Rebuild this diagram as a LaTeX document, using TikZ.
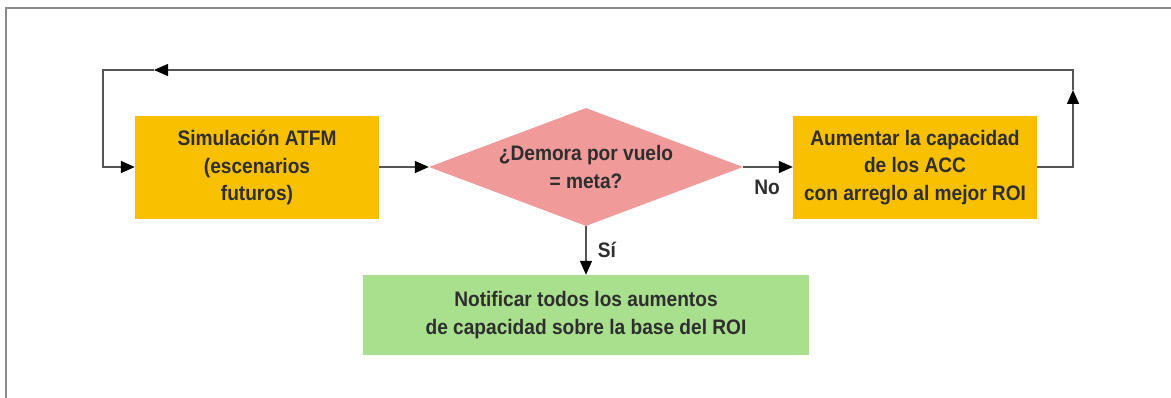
\documentclass[tikz,border=0pt]{standalone}
\usepackage{fontspec}
\setmainfont{Liberation Sans}[FakeStretch=0.91]
\usetikzlibrary{shapes.geometric,arrows.meta}
\definecolor{boxyellow}{HTML}{F9C000}
\definecolor{diapink}{HTML}{F09A9A}
\definecolor{boxgreen}{HTML}{A9E08E}
\definecolor{txtgray}{HTML}{2E2E2E}
\definecolor{linegray}{HTML}{555555}
\definecolor{framegray}{HTML}{8A8A8A}
\begin{document}
\begin{tikzpicture}[x=1pt,y=-1pt,
  lbl/.style={font=\bfseries\fontsize{21}{27.5}\selectfont, text=txtgray, align=center},
  ybox/.style={lbl, fill=boxyellow, minimum width=244, minimum height=103, inner sep=0},
  gbox/.style={lbl, fill=boxgreen, minimum width=446, minimum height=80, inner sep=0},
  dbox/.style={lbl, shape=diamond, fill=diapink, minimum width=314, minimum height=118, inner sep=0, aspect=2.66},
  conn/.style={draw=linegray, line width=1.4pt},
  arr/.style={conn, -{Triangle[length=14pt,width=12pt,fill=black,color=black]}},
  tag/.style={font=\bfseries\fontsize{21}{25}\selectfont, text=txtgray}
]
\useasboundingbox (0,0) rectangle (1171,398);
\draw[framegray, line width=1.5pt] (6,400) -- (6,8) -- (1173,8);

\node[ybox] (sim) at (257,167.5) {Simulación ATFM\\(escenarios\\futuros)};
\node[dbox] (dec) at (586,167) {\makebox[0pt]{¿Demora por vuelo}\\\makebox[0pt]{= meta?}};
\node[ybox] (aum) at (915,167.5) {Aumentar la capacidad\\de los ACC\\con arreglo al mejor ROI};
\node[gbox] (not) at (586,315) {Notificar todos los aumentos\\de capacidad sobre la base del ROI};

\coordinate (r1) at (1073,167);
\coordinate (r2) at (1073,90);
\coordinate (r3) at (1073,70);
\coordinate (t1) at (154,70);
\coordinate (l1) at (103,70);
\coordinate (l2) at (103,167);

\draw[arr] (sim.east |- dec.west) -- (dec.west);
\draw[arr] (dec.east) -- (aum.west |- dec.east);
\draw[arr] (dec.south) -- (dec.south |- not.north);
\draw[arr] (aum.east |- r1) -- (r1) -- (r2);
\draw[arr] (r2) -- (r3) -- (t1);
\draw[arr] (t1) -- (l1) -- (l2) -- (sim.west |- l2);

\node[tag] (no) at (767,187) {No};
\node[tag] (si) at (607,250) {Sí};
\end{tikzpicture}
\end{document}
